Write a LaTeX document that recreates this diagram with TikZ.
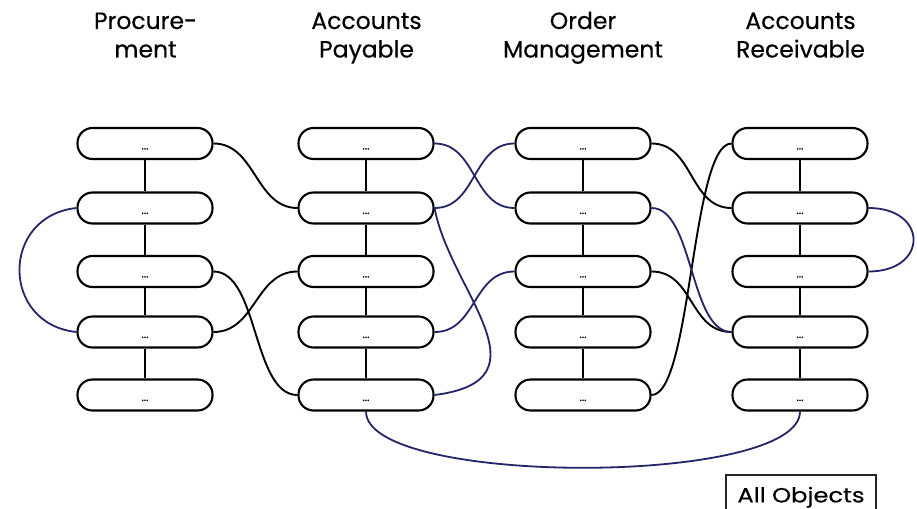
\documentclass[tikz,border=0pt]{standalone}
\usepackage{fontspec}
\setmainfont{Poppins}[FakeBold=0.35]
\newfontfamily\legendfont{Poppins}[FakeStretch=1.18,FakeBold=0.35]
\definecolor{navyline}{RGB}{36,36,104}
\begin{document}
\begin{tikzpicture}[x=1pt,y=1pt,
  obj/.style={draw=black, line width=2.1pt, rounded corners=15pt,
    minimum width=135pt, minimum height=31pt, inner sep=0pt,
    font=\fontsize{11}{12}\selectfont, text height=12pt, text depth=0pt},
  title/.style={font=\fontsize{23.5}{28.5}\selectfont, align=center, inner sep=0pt, anchor=base},
  link/.style={line width=1.9pt, draw=black},
  blink/.style={line width=1.8pt, draw=navyline},
  allbox/.style={draw=black!85, line width=1.8pt, font=\legendfont\fontsize{20.5}{24}\selectfont,
    minimum width=150pt, minimum height=40pt, inner sep=0pt, anchor=north,
    text height=15pt, text depth=0pt}]
\useasboundingbox (0,0) rectangle (917,-508);

% column titles
\node[title] (tp)  at (145.5,-57.5) {Procure-\\ment};
\node[title] (tap) at (366.5,-57.5) {Accounts\\Payable};
\node[title] (tom) at (583,-57.5)   {Order\\Management};
\node[title] (tar) at (800.5,-57.5) {Accounts\\Receivable};

% object nodes
\foreach \c/\x in {p/145, ap/366, om/583, ar/800}{
  \foreach \r/\y in {1/143.5, 2/208, 3/271.5, 4/332, 5/395}{
    \node[obj] (\c\r) at (\x,-\y) {...};
  }
}

% vertical chains
\foreach \c in {p,ap,om,ar}{
  \foreach \r/\s in {1/2,2/3,3/4,4/5}{
    \draw[link] (\c\r) -- (\c\s);
  }
}

% black links
\draw[link] (p1.east) .. controls +(42,0) and +(-42,0) .. (ap2.west);
\draw[link] (p3.east) .. controls +(45,0) and +(-45,0) .. (ap5.west);
\draw[link] (p4.east) .. controls +(42,0) and +(-42,0) .. (ap3.west);
\draw[link] (om1.east) .. controls +(42,0) and +(-42,0) .. (ar2.west);
\draw[link] (om3.east) .. controls +(42,0) and +(-42,0) .. (ar4.west);
\draw[link] (om5.east) .. controls +(40,0) and +(-40,0) .. (ar1.west);

% blue links
\draw[blink] (p2.west) .. controls +(-76,-8) and +(-76,8) .. (p4.west);
\draw[blink] (ap1.east) .. controls +(42,0) and +(-42,0) .. (om2.west);
\draw[blink] (ap2.east) .. controls +(42,0) and +(-42,0) .. (om1.west);
\draw[blink] (ap2.east) .. controls +(15,-82) and +(118,15) .. (ap5.east);
\draw[blink] (ap4.east) .. controls +(42,0) and +(-42,0) .. (om3.west);
\draw[blink] (om2.east) .. controls +(42,0) and +(-42,0) .. (ar4.west);
\draw[blink] (ar2.east) .. controls +(60,0) and +(60,0) .. (ar3.east);
\draw[blink] (ap5.south) .. controls +(0,-75) and +(0,-75) .. (ar5.south);

% legend box
\node[allbox] (all) at (801,-474) {All Objects};
\end{tikzpicture}
\end{document}
